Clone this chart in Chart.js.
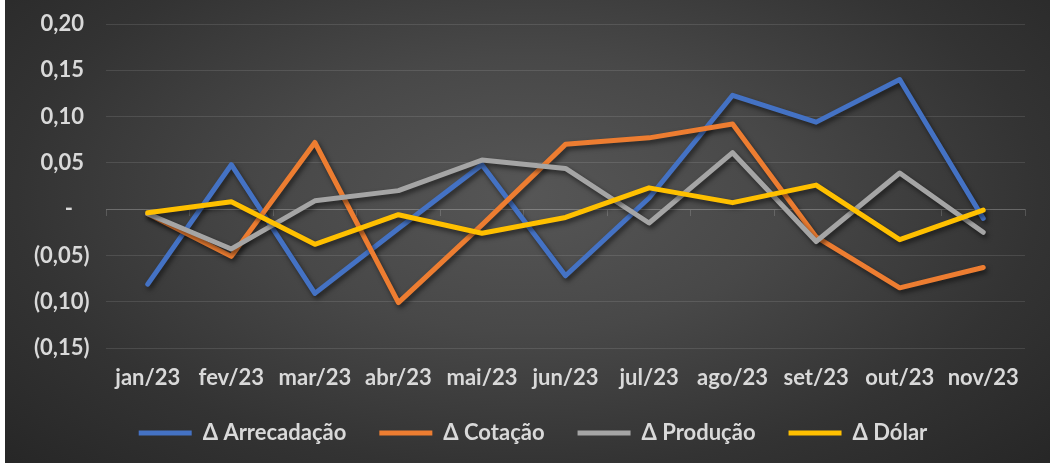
<!DOCTYPE html>
<html>
<head>
<meta charset="utf-8">
<script src="https://cdn.jsdelivr.net/npm/chart.js@4.4.0/dist/chart.umd.min.js"></script>
<style>
  html, body { margin: 0; padding: 0; background: #ffffff; }
  #wrap {
    position: absolute; left: 5px; top: 0; width: 1045px; height: 463px;
    background: radial-gradient(ellipse 70% 85% at 50% 42%, #565656 0%, #484848 35%, #333333 70%, #262626 100%);
  }
  canvas { display: block; }
</style>
</head>
<body>
<div id="wrap"><canvas id="c"></canvas></div>
<script>
const categories = ['jan/23','fev/23','mar/23','abr/23','mai/23','jun/23','jul/23','ago/23','set/23','out/23','nov/23'];
const arrecadacao = [-0.081, 0.048, -0.091, -0.021, 0.048, -0.072, 0.012, 0.123, 0.094, 0.140, -0.010];
const cotacao     = [-0.005, -0.051, 0.072, -0.101, -0.017, 0.070, 0.077, 0.092, -0.030, -0.085, -0.063];
const producao    = [-0.005, -0.043, 0.009, 0.020, 0.053, 0.044, -0.015, 0.061, -0.035, 0.039, -0.025];
const dolar       = [-0.004, 0.008, -0.038, -0.006, -0.026, -0.009, 0.023, 0.007, 0.026, -0.033, -0.001];
const seriesNames = ['Δ Arrecadação','Δ Cotação','Δ Produção','Δ Dólar'];
const yTickLabels = ['(0,15)','(0,10)','(0,05)','-','0,05','0,10','0,15','0,20'];

const colors = ['#4472C4','#ED7D31','#A5A5A5','#FFC000'];
const textColor = '#d9d9d9';
const font = { family: 'Lato', weight: 'bold', size: 22 };
const EM = '\u2003';

const shadowPlugin = {
  id: 'lineShadow',
  beforeDatasetsDraw(chart) {
    const ctx = chart.ctx;
    ctx.save();
    ctx.shadowColor = 'rgba(0,0,0,0.55)';
    ctx.shadowBlur = 5;
    ctx.shadowOffsetX = 2;
    ctx.shadowOffsetY = 3;
  },
  afterDatasetsDraw(chart) { chart.ctx.restore(); }
};

const legendShift = {
  id: 'legendShift',
  afterLayout(chart) {
    const l = chart.legend;
    if (l) { l.left += 18; l.right += 18; }
  }
};

function ds(label, data, color, order) {
  return {
    label, data, borderColor: color, backgroundColor: color,
    borderWidth: 5, pointRadius: 0, pointHoverRadius: 0, tension: 0,
    borderCapStyle: 'round', borderJoinStyle: 'round', order
  };
}

new Chart(document.getElementById('c'), {
  type: 'line',
  data: {
    labels: categories,
    datasets: [
      ds(seriesNames[0], arrecadacao, colors[0], 4),
      ds(seriesNames[1], cotacao, colors[1], 3),
      ds(seriesNames[2], producao, colors[2], 2),
      ds(seriesNames[3], dolar, colors[3], 1)
    ]
  },
  options: {
    responsive: true,
    maintainAspectRatio: false,
    animation: false,
    layout: { padding: { left: 0, right: 25, top: 24, bottom: 9 } },
    plugins: {
      tooltip: { enabled: false },
      legend: {
        position: 'bottom',
        labels: {
          color: textColor, font,
          usePointStyle: true, pointStyle: 'line', pointStyleWidth: 53,
          padding: 33,
          sort: (a, b) => a.datasetIndex - b.datasetIndex
        }
      }
    },
    scales: {
      x: {
        offset: true,
        grid: { display: false, drawTicks: false },
        border: { display: false },
        ticks: { color: textColor, font, padding: 17, maxRotation: 0, autoSkip: false },
        afterFit: (s) => { s.height = 41; }
      },
      x0: {
        type: 'category',
        position: { y: 0 },
        offset: true,
        grid: { offset: true, drawOnChartArea: false, drawTicks: true, tickLength: 6, color: 'rgba(255,255,255,0.16)' },
        border: { display: true, color: 'rgba(255,255,255,0.16)', width: 1 },
        ticks: { display: false }
      },
      y: {
        min: -0.15, max: 0.20,
        ticks: {
          stepSize: 0.05, color: textColor, font, padding: 0,
          callback: (v, i) => {
            const t = yTickLabels[i];
            if (t === '-') return t + EM + '\u2002\u2005';
            if (t.startsWith('(')) return t + EM;
            return t + '\u2005' + EM;
          }
        },
        grid: { color: 'rgba(255,255,255,0.11)', drawTicks: false },
        border: { display: false },
        afterFit: (s) => { s.width = 101; }
      }
    }
  },
  plugins: [shadowPlugin, legendShift]
});
</script>
</body>
</html>
